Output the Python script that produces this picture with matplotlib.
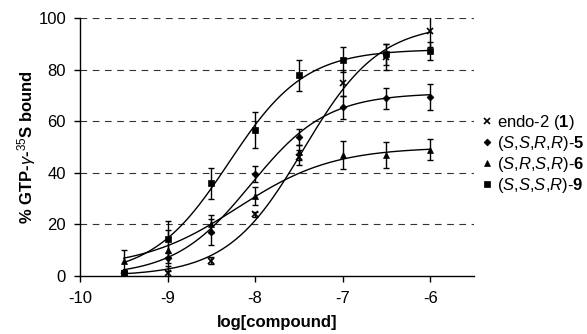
import numpy as np
import matplotlib
matplotlib.use("Agg")
import matplotlib.pyplot as plt
from matplotlib.lines import Line2D

plt.rcParams['font.family'] = ['Liberation Sans', 'DejaVu Sans']
plt.rcParams['mathtext.fontset'] = 'custom'
plt.rcParams['mathtext.rm'] = 'Liberation Sans'
plt.rcParams['mathtext.it'] = 'Liberation Sans:italic'
plt.rcParams['mathtext.bf'] = 'Liberation Sans:bold'

# ---- data ----
log_conc = [-9.5, -9, -8.5, -8, -7.5, -7, -6.5, -6]

endo2 = [0, 1, 6, 24, 46, 75, 85, 95]
endo2_err = [0.5, 3, 1.5, 1, 3, 5, 5, 6]

sssr9 = [1, 14.5, 36, 56.5, 78, 84, 86, 87.5]
sssr9_err = [1, 7, 6, 7, 6, 5, 4, 3.5]

ssrr5 = [1.5, 7, 17, 39.5, 54, 65.5, 69, 69.5]
ssrr5_err = [1, 2, 5, 3, 3, 4.5, 4, 5]

srsr6 = [6, 10, 20, 31, 48, 47, 47, 49]
srsr6_err = [4, 8, 3.5, 3.5, 3, 5.5, 5, 4]

# fitted sigmoid parameters (bottom, top, logEC50, hill) per series
fit_bottom = [0, 0, 3, 0]
fit_top = [98, 71, 50, 88]
fit_logec50 = [-7.45, -8.05, -8.2, -8.3]
fit_hill = [1.0, 1.0, 0.8, 1.0]

labels = [r'endo-2 ($\mathbf{1}$)',
          r'($\mathit{S}{,}\mathit{S}{,}\mathit{R}{,}\mathit{R}$)-$\mathbf{5}$',
          r'($\mathit{S}{,}\mathit{R}{,}\mathit{S}{,}\mathit{R}$)-$\mathbf{6}$',
          r'($\mathit{S}{,}\mathit{S}{,}\mathit{S}{,}\mathit{R}$)-$\mathbf{9}$']
markers = ['x', 'D', '^', 's']
msizes = [5, 3.5, 4.5, 4]
series = [endo2, ssrr5, srsr6, sssr9]
errors = [endo2_err, ssrr5_err, srsr6_err, sssr9_err]

FS = 12

fig = plt.figure(figsize=(5.87, 3.34), dpi=100)
ax = fig.add_axes([0.1363, 0.1737, 0.8075 - 0.1363, 0.945 - 0.1737])

for yv in [20, 40, 60, 80, 100]:
    ax.axhline(yv, color='#333333', lw=0.8, ls=(0, (6, 5)), zorder=0)

xs = np.linspace(log_conc[0], log_conc[-1], 200)
for i, (y, e, m, ms) in enumerate(zip(series, errors, markers, msizes)):
    ax.errorbar(log_conc, y, yerr=e, fmt='none', ecolor='black',
                elinewidth=1, capsize=2.5, capthick=1, zorder=2)
    ax.plot(log_conc, y, ls='none', marker=m, ms=ms, color='black',
            mew=1.2 if m == 'x' else 0.5, zorder=3)
    b, t, c, h = fit_bottom[i], fit_top[i], fit_logec50[i], fit_hill[i]
    ax.plot(xs, b + (t - b) / (1 + 10 ** ((c - xs) * h)), color='black', lw=1, zorder=2)

ax.set_xlim(-10, -5.5)
ax.set_ylim(0, 100)
ax.set_xticks([-10, -9, -8, -7, -6])
ax.set_yticks([0, 20, 40, 60, 80, 100])
ax.set_xticklabels(['-10', '-9', '-8', '-7', '-6'])
ax.spines['top'].set_visible(False)
ax.spines['right'].set_visible(False)
ax.spines['left'].set_linewidth(1)
ax.spines['bottom'].set_linewidth(1)
ax.tick_params(axis='both', direction='out', length=4, width=1, labelsize=FS, pad=6)
ax.tick_params(axis='x', pad=7)

ax.set_xlabel('log[compound]', fontsize=FS, fontweight='bold', labelpad=6)
ax.set_ylabel(r'% GTP-$\gamma$-$^{35}$S bound', fontsize=FS, fontweight='bold', labelpad=0)

handles = [Line2D([], [], ls='none', marker=m, ms=ms, color='black',
                  mew=1.2 if m == 'x' else 0.5) for m, ms in zip(markers, msizes)]
fig.legend(handles, labels, loc='upper left', bbox_to_anchor=(0.823, 0.663),
           frameon=False, fontsize=FS, handlelength=0.5, handletextpad=0.35,
           labelspacing=0.12, borderpad=0, borderaxespad=0)

fig.savefig('out.png', dpi=100)
